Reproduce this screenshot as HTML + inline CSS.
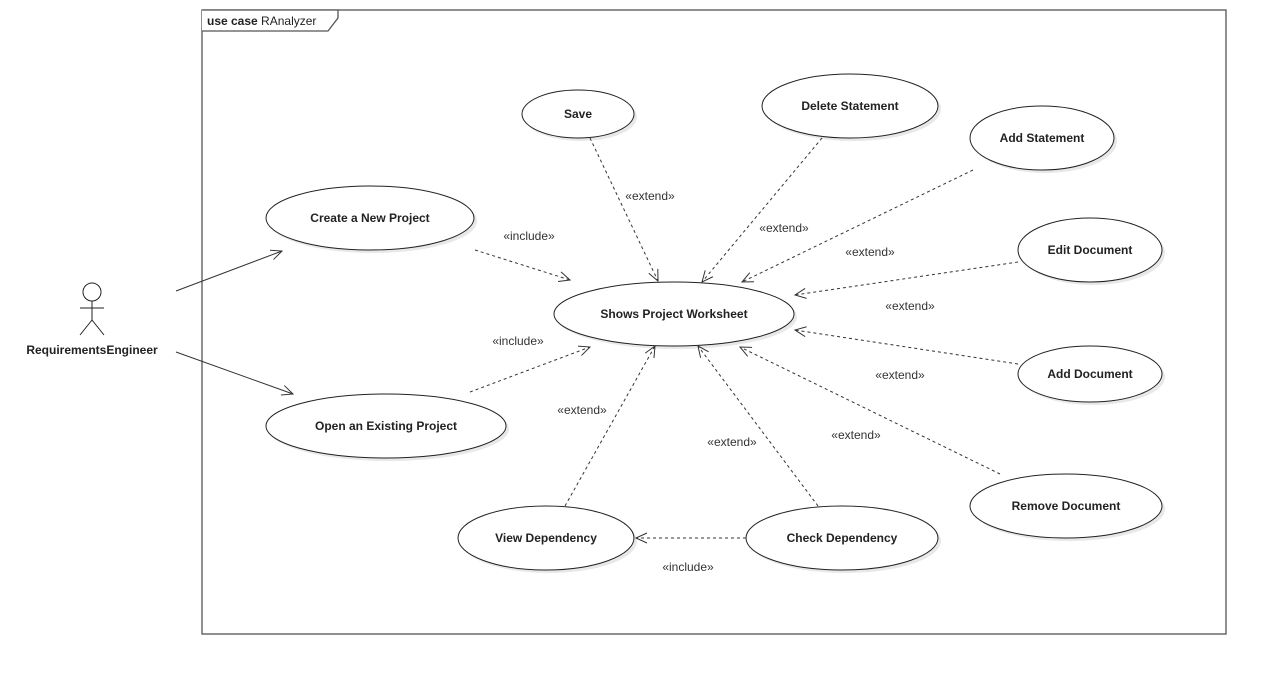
<!DOCTYPE html>
<html><head><meta charset="utf-8"><style>
html,body{margin:0;padding:0;background:#fff;}
svg{display:block;font-family:"Liberation Sans",sans-serif;}
.e{fill:#fff;stroke:#222;stroke-width:1;}
.s{fill:#e8e8e8;}
.t{font-size:12px;font-weight:bold;fill:#222;text-anchor:middle;}
.l{font-size:12px;fill:#333;text-anchor:middle;}
.d{stroke:#333;stroke-width:1;stroke-dasharray:3,3;fill:none;}
.a{stroke:#333;stroke-width:1;fill:none;}
</style></head><body>
<svg width="1266" height="674" viewBox="0 0 1266 674">
<defs><marker id="m" markerWidth="14" markerHeight="12" refX="12" refY="6" orient="auto" markerUnits="userSpaceOnUse"><path d="M1,1 L12,6 L1,11" fill="none" stroke="#333" stroke-width="1"/></marker></defs>
<rect x="202" y="10" width="1024" height="624" fill="none" stroke="#555" stroke-width="1.3"/>
<path d="M202,10 L338,10 L338,18 L328,31 L202,31" fill="#fff" stroke="#555" stroke-width="1.3"/>
<text x="207" y="25" font-size="12" fill="#222"><tspan font-weight="bold">use case</tspan>  RAnalyzer</text>
<g id="el">
<ellipse class="s" cx="581" cy="117" rx="56" ry="24"/><ellipse class="e" cx="578" cy="114" rx="56" ry="24"/><text class="t" x="578" y="118">Save</text>
<ellipse class="s" cx="853" cy="109" rx="88" ry="32"/><ellipse class="e" cx="850" cy="106" rx="88" ry="32"/><text class="t" x="850" y="110">Delete Statement</text>
<ellipse class="s" cx="1045" cy="141" rx="72" ry="32"/><ellipse class="e" cx="1042" cy="138" rx="72" ry="32"/><text class="t" x="1042" y="142">Add Statement</text>
<ellipse class="s" cx="373" cy="221" rx="104" ry="32"/><ellipse class="e" cx="370" cy="218" rx="104" ry="32"/><text class="t" x="370" y="222">Create a New Project</text>
<ellipse class="s" cx="677" cy="317" rx="120" ry="32"/><ellipse class="e" cx="674" cy="314" rx="120" ry="32"/><text class="t" x="674" y="318">Shows Project Worksheet</text>
<ellipse class="s" cx="1093" cy="253" rx="72" ry="32"/><ellipse class="e" cx="1090" cy="250" rx="72" ry="32"/><text class="t" x="1090" y="254">Edit Document</text>
<ellipse class="s" cx="1093" cy="377" rx="72" ry="28"/><ellipse class="e" cx="1090" cy="374" rx="72" ry="28"/><text class="t" x="1090" y="378">Add Document</text>
<ellipse class="s" cx="389" cy="429" rx="120" ry="32"/><ellipse class="e" cx="386" cy="426" rx="120" ry="32"/><text class="t" x="386" y="430">Open an Existing Project</text>
<ellipse class="s" cx="1069" cy="509" rx="96" ry="32"/><ellipse class="e" cx="1066" cy="506" rx="96" ry="32"/><text class="t" x="1066" y="510">Remove Document</text>
<ellipse class="s" cx="549" cy="541" rx="88" ry="32"/><ellipse class="e" cx="546" cy="538" rx="88" ry="32"/><text class="t" x="546" y="542">View Dependency</text>
<ellipse class="s" cx="845" cy="541" rx="96" ry="32"/><ellipse class="e" cx="842" cy="538" rx="96" ry="32"/><text class="t" x="842" y="542">Check Dependency</text>
</g>
<line class="a" x1="176" y1="291" x2="282" y2="251" marker-end="url(#m)"/>
<line class="a" x1="176" y1="352" x2="293" y2="394" marker-end="url(#m)"/>
<line class="d" x1="475" y1="250" x2="570" y2="280" marker-end="url(#m)"/>
<line class="d" x1="470" y1="392" x2="590" y2="347" marker-end="url(#m)"/>
<line class="d" x1="590" y1="138" x2="658" y2="281" marker-end="url(#m)"/>
<line class="d" x1="822" y1="138" x2="702" y2="282" marker-end="url(#m)"/>
<line class="d" x1="973" y1="170" x2="742" y2="282" marker-end="url(#m)"/>
<line class="d" x1="1018" y1="262" x2="795" y2="295" marker-end="url(#m)"/>
<line class="d" x1="1018" y1="364" x2="795" y2="330" marker-end="url(#m)"/>
<line class="d" x1="1000" y1="474" x2="740" y2="347" marker-end="url(#m)"/>
<line class="d" x1="818" y1="506" x2="698" y2="346" marker-end="url(#m)"/>
<line class="d" x1="565" y1="506" x2="655" y2="346" marker-end="url(#m)"/>
<line class="d" x1="746" y1="538" x2="636" y2="538" marker-end="url(#m)"/>
<text class="l" x="650" y="200">«extend»</text>
<text class="l" x="784" y="232">«extend»</text>
<text class="l" x="870" y="256">«extend»</text>
<text class="l" x="910" y="310">«extend»</text>
<text class="l" x="900" y="379">«extend»</text>
<text class="l" x="856" y="439">«extend»</text>
<text class="l" x="732" y="446">«extend»</text>
<text class="l" x="582" y="414">«extend»</text>
<text class="l" x="529" y="240">«include»</text>
<text class="l" x="518" y="345">«include»</text>
<text class="l" x="688" y="571">«include»</text>
<g stroke="#222" stroke-width="1" fill="#fff">
<circle cx="92" cy="292" r="9"/>
<line x1="92" y1="301" x2="92" y2="320"/>
<line x1="80" y1="308" x2="104" y2="308"/>
<line x1="92" y1="320" x2="80" y2="335"/>
<line x1="92" y1="320" x2="104" y2="335"/>
</g>
<text class="t" x="92" y="354">RequirementsEngineer</text>
</svg>
</body></html>
